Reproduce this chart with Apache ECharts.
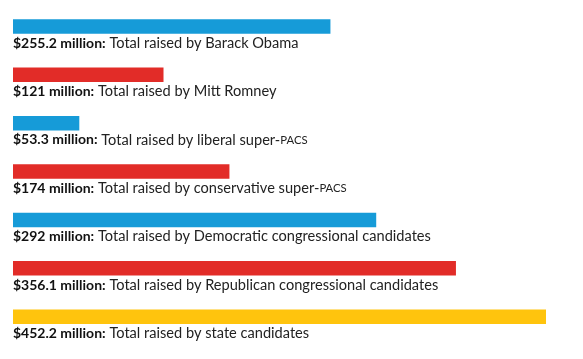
<!DOCTYPE html>
<html>
<head>
<meta charset="utf-8">
<script src="https://cdn.jsdelivr.net/npm/echarts@6/dist/echarts.min.js"></script>
<style>
  html, body { margin: 0; padding: 0; background: #ffffff; }
  #chart { width: 583px; height: 359px; }
</style>
</head>
<body>
<div id="chart"></div>
<script>
var categories = [
  'Barack Obama',
  'Mitt Romney',
  'Liberal super-PACs',
  'Conservative super-PACs',
  'Democratic congressional candidates',
  'Republican congressional candidates',
  'State candidates'
];
var descriptions = [
  'Total raised by Barack Obama',
  'Total raised by Mitt Romney',
  'Total raised by liberal super-PACs',
  'Total raised by conservative super-PACs',
  'Total raised by Democratic congressional candidates',
  'Total raised by Republican congressional candidates',
  'Total raised by state candidates'
];
var values = [255.2, 121, 53.3, 174, 292, 356.1, 452.2];
var barColors = ['#169bd8', '#e22c28', '#169bd8', '#e22c28', '#169bd8', '#e22c28', '#ffc40d'];

var chart = echarts.init(document.getElementById('chart'), null, { renderer: 'canvas' });

function fmtLabel(p) {
  var d = descriptions[p.dataIndex];
  var parts = d.split('PACs');
  var desc = '{n|' + parts[0] + '}';
  if (parts.length > 1) {
    desc += '{s|PACS}';
    if (parts[1]) desc += '{n|' + parts[1] + '}';
  }
  return '{b|$' + p.value + ' million:}{n| }' + desc;
}

chart.setOption({
  animation: false,
  backgroundColor: '#ffffff',
  grid: { left: 13, right: 37, top: 2.3, bottom: 18.1 },
  xAxis: {
    type: 'value', min: 0, max: 428.5,
    show: false
  },
  yAxis: {
    type: 'category', data: categories, inverse: true,
    show: false
  },
  series: [{
    type: 'bar',
    barWidth: 14.5,
    clip: true,
    data: values.map(function (v, i) {
      return { value: v, itemStyle: { color: barColors[i] } };
    }),
    label: {
      show: true,
      position: [0, 24],
      align: 'left',
      verticalAlign: 'middle',
      formatter: fmtLabel,
      rich: {
        b: { fontFamily: 'Lato', fontWeight: 'bold', fontSize: 14, color: '#111111' },
        n: { fontFamily: 'Lato', fontWeight: 'normal', fontSize: 14.6, color: '#222222' },
        s: { fontFamily: 'Lato', fontWeight: 'normal', fontSize: 11.3, color: '#222222' }
      }
    }
  }]
});
</script>
</body>
</html>
